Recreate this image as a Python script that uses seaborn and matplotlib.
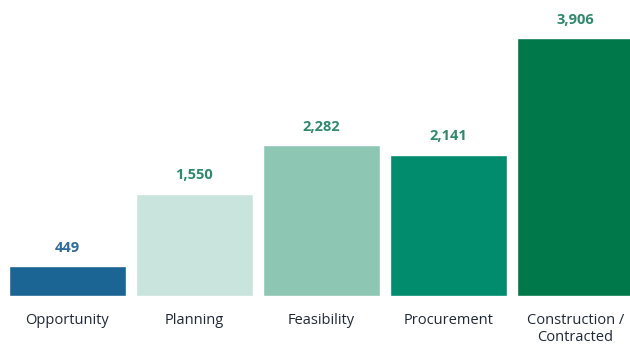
import matplotlib
matplotlib.use("Agg")
import matplotlib.pyplot as plt
import seaborn as sns
import pandas as pd

stages = ["Opportunity", "Planning", "Feasibility", "Procurement", "Construction /\nContracted"]
counts = [449, 1550, 2282, 2141, 3906]
bar_colors = ["#1b6594", "#c9e4dc", "#8ec6b4", "#008c6d", "#00784a"]
value_colors = ["#2c6b9a", "#2e8a6c", "#2e8a6c", "#2e8a6c", "#2e8a6c"]

sns.set_theme(style="white")
plt.rcParams["font.family"] = ["Open Sans", "DejaVu Sans"]

df = pd.DataFrame({"stage": stages, "count": counts})

fig = plt.figure(figsize=(6.3, 3.45), dpi=100)
ax = fig.add_axes([0, 0.142, 1, 0.858])

sns.barplot(data=df, x="stage", y="count", hue="stage", palette=bar_colors,
            width=0.92, legend=False, ax=ax, saturation=1)

for i, (v, c) in enumerate(zip(counts, value_colors)):
    ax.text(i, v + 170, f"{v:,}", ha="center", va="bottom",
            fontsize=10.5, fontweight="bold", color=c)

ax.set_xlim(-0.531, 4.429)
ax.set_ylim(0, 4481)
ax.set_yticks([])
ax.set_xlabel("")
ax.set_ylabel("")
ax.tick_params(axis="x", length=0, pad=12, labelsize=10.5, labelcolor="#1f2838")
for lbl in ax.get_xticklabels():
    lbl.set_linespacing(1.25)
for s in ax.spines.values():
    s.set_visible(False)

fig.savefig("out.png", dpi=100)
